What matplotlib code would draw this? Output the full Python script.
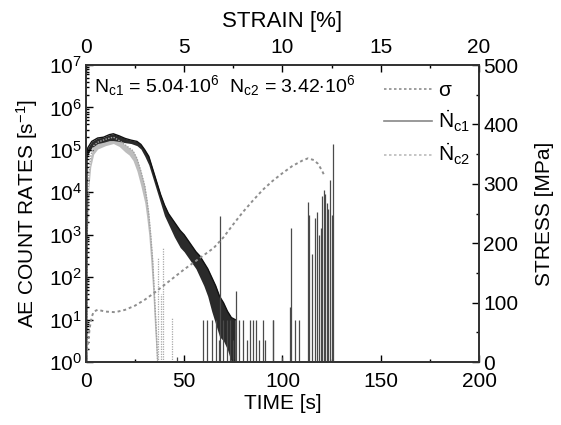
import matplotlib
matplotlib.use('Agg')
import matplotlib.pyplot as plt
from matplotlib.ticker import MultipleLocator, LogLocator, NullFormatter
import numpy as np

matplotlib.rcParams.update({
    'font.family': 'Liberation Sans',
    'mathtext.fontset': 'custom',
    'mathtext.rm': 'Liberation Sans',
    'mathtext.it': 'Liberation Sans:italic',
    'mathtext.bf': 'Liberation Sans:bold',
    'font.size': 15,
})

# stress curve sigma(t), MPa
stress_t = [0, 1, 2, 3, 4, 6, 10, 15, 20, 25, 30, 35, 40, 45, 50, 55, 60, 65,
            70, 75, 80, 85, 90, 95, 100, 105, 110, 113, 116, 118, 120, 121]
stress_v = [0, 30, 58, 76, 85, 88, 85, 84, 88, 95, 105, 117, 130, 143, 156, 168,
            180, 192, 210, 232, 253, 272, 290, 305, 318, 330, 339, 343, 340, 334,
            323, 316]

# Ndot_c1 dense band, log10 of count rate (upper / lower edges)
c1_t = [0.4, 0.6, 1, 3, 6, 9, 12, 14, 17, 20, 23, 26, 28, 30, 32, 34, 36, 38,
        40, 42, 45, 48, 50, 53, 56, 58, 60, 62, 64, 66, 68, 70, 72, 74, 76]
c1_hi = [0, 4.9, 5.05, 5.2, 5.28, 5.3, 5.36, 5.38, 5.33, 5.27, 5.23, 5.2, 5.13,
         5.0, 4.85, 4.55, 4.25, 3.95, 3.7, 3.5, 3.3, 3.1, 3.0, 2.8, 2.6, 2.5,
         2.35, 2.2, 2.0, 1.8, 1.55, 1.4, 1.2, 1.05, 1.0]
c1_lo = [0, 4.8, 4.9, 5.05, 5.15, 5.18, 5.22, 5.22, 5.2, 5.17, 5.15, 5.1, 5.02,
         4.85, 4.65, 4.35, 4.05, 3.75, 3.45, 3.25, 2.95, 2.7, 2.6, 2.4, 2.2,
         2.0, 1.8, 1.55, 1.2, 0.9, 0.6, 0.5, 0.3, 0.0, 0.0]

# Ndot_c2 band, log10
c2_t = [0.5, 0.8, 1.5, 2.5, 4, 6, 10, 14, 17, 20, 22, 24, 26, 28, 30, 31, 32,
        33, 34, 35, 36, 36.5]
c2_hi = [0, 3.5, 4.4, 4.85, 5.1, 5.18, 5.25, 5.3, 5.22, 5.12, 5.05, 4.98, 4.8,
         4.5, 4.15, 3.85, 3.5, 3.0, 2.4, 1.5, 0.6, 0]
c2_lo = [0, 3.0, 4.1, 4.6, 4.9, 5.02, 5.1, 5.15, 5.08, 4.95, 4.88, 4.75, 4.5,
         4.15, 3.75, 3.4, 3.0, 2.4, 1.7, 0.8, 0, 0]

# isolated Ndot_c1 spikes (time s, rate 1/s)
sp1_t = [46.2, 59.7, 61.7, 64.0, 66.2, 67.9, 68.2, 69.6, 71.6, 73.3, 74.6, 76.3,
         78.0, 80.1, 81.8, 83.5, 84.8, 86.5, 88.2, 89.9, 91.1, 95.0, 95.3, 100.0,
         103.8, 104.3, 106.3, 108.5, 112.8, 113.3, 114.9, 116.5, 117.5, 118.5,
         119.5, 120.2, 120.9, 121.5, 122.6, 123.2, 124.3, 125.0, 125.5]
sp1_v = [1.3, 10, 10, 10, 10, 3.3, 2800, 10, 10, 10, 3.3, 47,
         10, 10, 3.3, 10, 10, 10, 3.3, 10, 3.3, 10, 10, 1.3,
         20, 1450, 10, 10, 5900, 3000, 360, 2500, 3400, 1000,
         1450, 8000, 11500, 9000, 5500, 4000, 20000, 3000, 140000]

# isolated Ndot_c2 spikes
sp2_t = [36.9, 38.2, 39.3, 43.9]
sp2_v = [300, 40, 490, 11]

fig = plt.figure(figsize=(5.61, 4.25), dpi=100)
ax = fig.add_axes([0.153, 0.148, 0.701, 0.699])
ax2 = ax.twinx()
ax3 = ax.twiny()

ax.fill_between(c2_t, 10 ** np.array(c2_lo), 10 ** np.array(c2_hi),
                color='#bdbdbd', lw=0)
ax.plot(c2_t, 10 ** np.array(c2_hi), color='#a0a0a0', lw=1, ls=(0, (1, 1)))
ax.vlines(sp2_t, 1, sp2_v, color='#a8a8a8', lw=0.9, ls=(0, (1, 1)))

ax.fill_between(c1_t, 10 ** np.array(c1_lo), 10 ** np.array(c1_hi),
                color='#2a2a2a', lw=0)
ax.plot(c1_t, 10 ** np.array(c1_hi), color='#111111', lw=1)
ax.vlines(sp1_t, 1, sp1_v, color='#4a4a4a', lw=0.9)

ax.set_yscale('log')
ax.set_xlim(0, 200)
ax.set_ylim(1, 1e7)
ax.yaxis.set_major_locator(LogLocator(base=10, numticks=10))
ax.yaxis.set_minor_locator(LogLocator(base=10, subs=np.arange(2, 10), numticks=10))
ax.yaxis.set_minor_formatter(NullFormatter())
ax.xaxis.set_major_locator(MultipleLocator(50))
ax.xaxis.set_minor_locator(MultipleLocator(25))
ax.set_xlabel('TIME [s]', labelpad=2)
ax.set_ylabel('AE COUNT RATES [s$^{-1}$]', labelpad=6)

ax2.plot(stress_t, stress_v, color='#8e8e8e', lw=1.4, ls=(0, (1.5, 1.5)))
ax2.set_ylim(0, 500)
ax2.yaxis.set_major_locator(MultipleLocator(100))
ax2.yaxis.set_minor_locator(MultipleLocator(50))
ax2.set_ylabel('STRESS [MPa]', labelpad=12)

ax3.set_xlim(0, 20)
ax3.xaxis.set_major_locator(MultipleLocator(5))
ax3.xaxis.set_minor_locator(MultipleLocator(2.5))
ax3.set_xlabel('STRAIN [%]', labelpad=8, fontsize=16)

for a in (ax, ax2, ax3):
    a.tick_params(which='both', direction='in', width=1, pad=3)
    a.tick_params(which='major', length=5)
    a.tick_params(which='minor', length=2.5)
    for s in a.spines.values():
        s.set_linewidth(1.1)
        s.set_color('#333333')
ax.tick_params(axis='x', which='both', pad=7)
ax3.tick_params(axis='x', which='both', pad=6)

h1, = ax.plot([], [], color='#8e8e8e', lw=1.2, ls=(0, (1.5, 1.5)))
h2, = ax.plot([], [], color='#888888', lw=1.2)
h3, = ax.plot([], [], color='#bbbbbb', lw=1.2, ls=(0, (1.5, 1.5)))
ax.legend([h1, h2, h3],
          ['\u03c3', '$\\dot{\\mathrm{N}}_{\\mathrm{c1}}$', '$\\dot{\\mathrm{N}}_{\\mathrm{c2}}$'],
          loc='upper right', frameon=False, handlelength=2.3,
          labelspacing=0.4, borderaxespad=0, borderpad=0, handletextpad=0.3,
          bbox_to_anchor=(0.977, 0.945))

ax.text(0.022, 0.972,
        'N$_{\\mathrm{c1}}$ = 5.04$\\cdot$10$^6$  N$_{\\mathrm{c2}}$ = 3.42$\\cdot$10$^6$',
        transform=ax.transAxes, ha='left', va='top', fontsize=14)

fig.savefig('out.png', dpi=100)
